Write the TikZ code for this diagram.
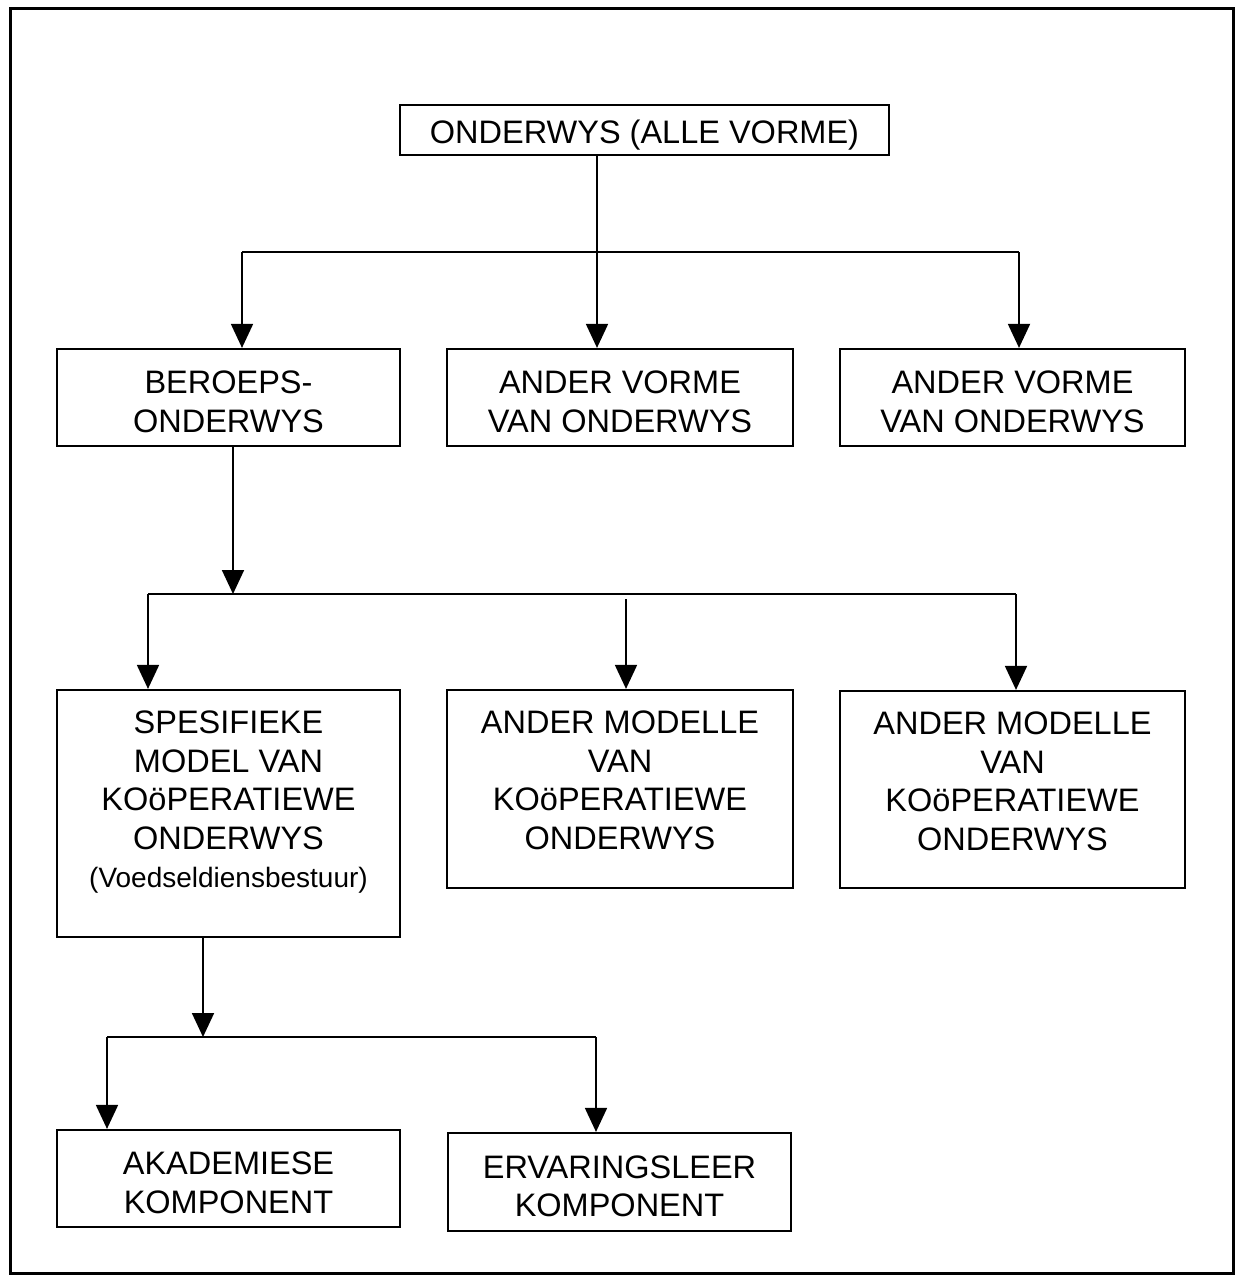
\documentclass[tikz,border=0pt]{standalone}
\usepackage{fontspec}
\setmainfont{Liberation Sans}
\usetikzlibrary{arrows.meta}
\newcommand{\bigtxt}{\fontsize{32.5}{38.5}\selectfont}
\newcommand{\smalltxt}{\fontsize{28}{38.5}\selectfont}
\begin{document}
\begin{tikzpicture}[x=1pt,y=-1pt,
  box/.style={draw, line width=2.2pt, inner sep=0pt, align=center, font=\bigtxt},
  txt/.style={inner sep=0pt, align=center, font=\bigtxt},
  link/.style={line width=1.8pt},
  arr/.style={link, -{Triangle[width=22pt,length=24pt]}},
]
\useasboundingbox (0,0) rectangle (1235,1276);
% outer frame
\draw[line width=3pt] (10,9) rectangle (1233,1273);

% level 1
\node[box, minimum width=489pt, minimum height=50pt] (top) at (644.5,130) {\rule{0pt}{34pt}ONDERWYS (ALLE VORME)};

% level 2
\node[box, minimum width=343pt, minimum height=97pt] (beroeps) at (228.5,397.5) {\rule{0pt}{31pt}BEROEPS-\\ONDERWYS};
\node[box, minimum width=346pt, minimum height=97pt] (vorme1) at (620,397.5) {\rule{0pt}{31pt}ANDER VORME\\VAN ONDERWYS};
\node[box, minimum width=345pt, minimum height=97pt] (vorme2) at (1012.5,397.5) {\rule{0pt}{31pt}ANDER VORME\\VAN ONDERWYS};

% level 3
\node[box, minimum width=343pt, minimum height=247pt] (spes) at (228.5,813.5) {};
\node[box, minimum width=346pt, minimum height=198pt] (model1) at (620,789) {};
\node[box, minimum width=345pt, minimum height=197pt] (model2) at (1012.5,789.5) {};
\node[txt, anchor=north, yshift=-22pt] (spestxt) at (spes.north)
  {SPESIFIEKE\\MODEL VAN\\KOöPERATIEWE\\ONDERWYS\\{\smalltxt (Voedseldiensbestuur)}};
\node[txt, anchor=north, yshift=-22pt] (model1txt) at (model1.north)
  {ANDER MODELLE\\VAN\\KOöPERATIEWE\\ONDERWYS};
\node[txt, anchor=north, yshift=-22pt] (model2txt) at (model2.north)
  {ANDER MODELLE\\VAN\\KOöPERATIEWE\\ONDERWYS};

% level 4
\node[box, minimum width=343pt, minimum height=97pt] (akad) at (228.5,1178.5) {\rule{0pt}{31pt}AKADEMIESE\\KOMPONENT};
\node[box, minimum width=343pt, minimum height=98pt] (erv) at (619.5,1182) {\rule{0pt}{31pt}ERVARINGSLEER\\KOMPONENT};

% junction points of the branch lines
\coordinate (b1L) at (242,252);
\coordinate (b1M) at (597,252);
\coordinate (b1R) at (1019,252);
\coordinate (b2L) at (148,594);
\coordinate (b2S) at (233,594);
\coordinate (b2M) at (626,599);
\coordinate (b2R) at (1016,594);
\coordinate (b3L) at (107,1037);
\coordinate (b3S) at (203,1037);
\coordinate (b3R) at (596,1037);

% connectors level 1 -> 2
\draw[link] (b1L) -- (b1R);
\draw[arr] (b1M |- top.south) -- (b1M |- vorme1.north);
\draw[arr] (b1L) -- (b1L |- beroeps.north);
\draw[arr] (b1R) -- (b1R |- vorme2.north);

% connectors level 2 -> 3
\draw[arr] (b2S |- beroeps.south) -- (b2S);
\draw[link] (b2L) -- (b2R);
\draw[arr] (b2L) -- (b2L |- spes.north);
\draw[arr] (b2M) -- (b2M |- model1.north);
\draw[arr] (b2R) -- (b2R |- model2.north);

% connectors level 3 -> 4
\draw[arr] (b3S |- spes.south) -- (b3S);
\draw[link] (b3L) -- (b3R);
\draw[arr] (b3L) -- (b3L |- akad.north);
\draw[arr] (b3R) -- (b3R |- erv.north);
\end{tikzpicture}
\end{document}
